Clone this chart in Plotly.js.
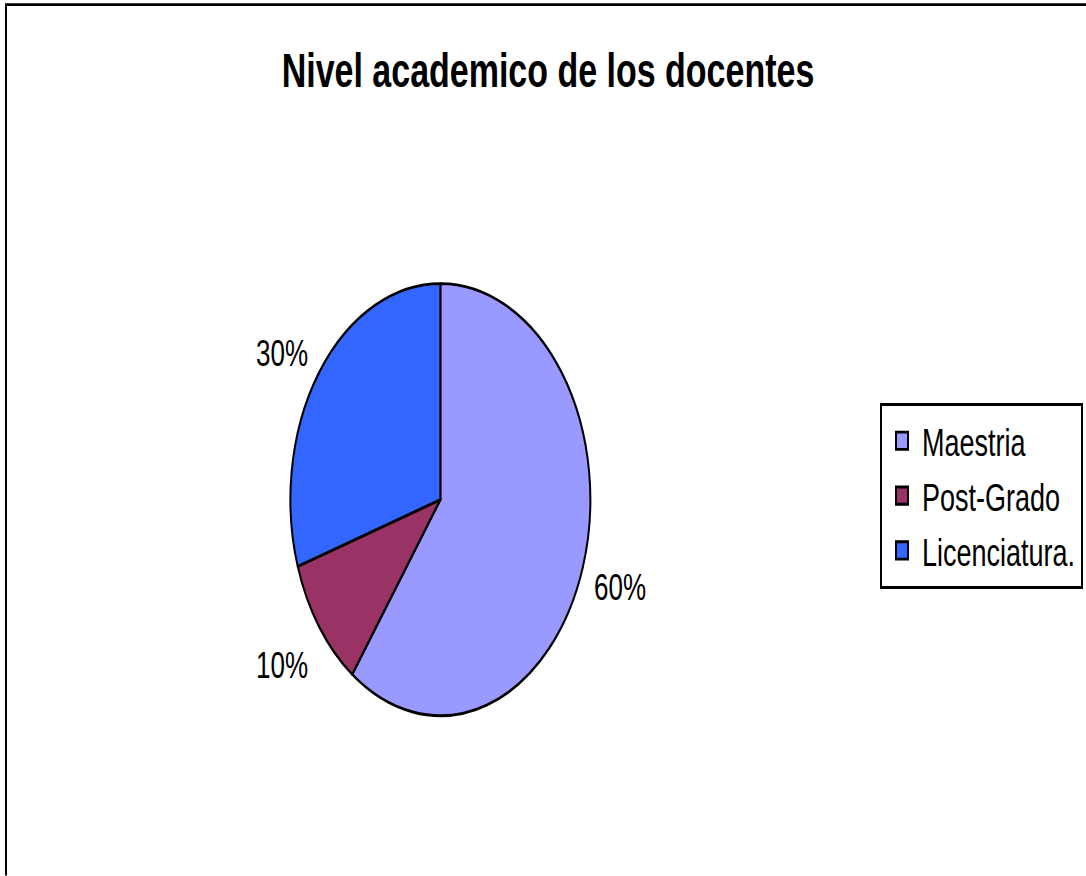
<!DOCTYPE html>
<html>
<head>
<meta charset="utf-8">
<script src="https://cdn.plot.ly/plotly-3.0.1.min.js"></script>
<style>
html, body { margin: 0; padding: 0; background: #fff; }
#wrap { width: 1086px; height: 876px; overflow: hidden; position: relative; }
#chart { width: 1086px; height: 608px; transform: scaleY(1.44); transform-origin: 0 0; }
</style>
</head>
<body>
<div id="wrap"><div id="chart"></div></div>
<script>
const categories = ["Maestria", "Post-Grado", "Licenciatura."];
const values = [60, 10, 30];
const pctLabels = ["60%", "10%", "30%"];
const colors = ["#9999FF", "#993366", "#3366FF"];
const titleText = "Nivel academico de los docentes";

const FONT = "Liberation Sans, Arial, sans-serif";

const trace = {
  type: "pie",
  labels: categories,
  values: values,
  sort: false,
  direction: "clockwise",
  rotation: 0,
  textinfo: "none",
  textposition: "none",
  hoverinfo: "none",
  marker: { colors: colors, line: { color: "#000", width: 2 } },
  domain: { x: [0.267, 0.544], y: [0.1826, 0.676] },
  showlegend: true
};

const labelPos = [
  { x: 620 / 1086, y: 1 - 408 / 608 },
  { x: 282 / 1086, y: 1 - 462 / 608 },
  { x: 282 / 1086, y: 1 - 244.5 / 608 }
];

const annotations = pctLabels.map((t, i) => ({
  text: t, xref: "paper", yref: "paper",
  x: labelPos[i].x, y: labelPos[i].y,
  xanchor: "center", yanchor: "middle",
  showarrow: false,
  font: { family: FONT, size: 26, color: "#000" }
}));

const layout = {
  width: 1086, height: 608,
  margin: { l: 0, r: 0, t: 0, b: 0 },
  paper_bgcolor: "#fff",
  title: {
    text: "<b>" + titleText + "</b>",
    font: { family: FONT, size: 34, color: "#000" },
    x: 548 / 1086, xref: "paper", xanchor: "center",
    y: 1 - 48.6 / 608, yref: "paper", yanchor: "middle"
  },
  legend: {
    x: 880 / 1086, y: 1 - 280 / 608, xanchor: "left", yanchor: "top",
    bordercolor: "#000", borderwidth: 2, bgcolor: "#fff",
    font: { family: FONT, size: 27, color: "#000" },
    itemclick: false, itemdoubleclick: false
  },
  annotations: annotations,
  shapes: [{
    type: "rect", xref: "paper", yref: "paper",
    x0: 6 / 1086, x1: 1.05, y0: -0.05, y1: 1 - 3.2 / 608,
    line: { color: "#000", width: 2 }, fillcolor: "rgba(0,0,0,0)"
  }]
};

Plotly.newPlot("chart", [trace], layout, { staticPlot: true, displayModeBar: false });
</script>
</body>
</html>
